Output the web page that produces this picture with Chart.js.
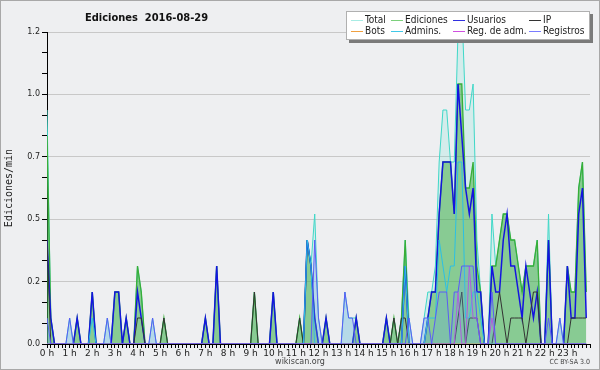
<!DOCTYPE html>
<html lang="es">
<head>
<meta charset="UTF-8">
<title>Ediciones 2016-08-29</title>
<script src="https://cdn.jsdelivr.net/npm/chart.js"></script>
<style>
  html, body { margin: 0; padding: 0; background: #eeeff1; }
</style>
</head>
<body>
<canvas id="editsChart" width="600" height="370"></canvas>

<script>
// one value every 10 minutes (144 per day), in edits per minute
const bins = Array.from({length: 144}, (_, i) => i);
const hourLabels = ['0 h','1 h','2 h','3 h','4 h','5 h','6 h','7 h','8 h','9 h','10 h','11 h',
                    '12 h','13 h','14 h','15 h','16 h','17 h','18 h','19 h','20 h','21 h','22 h','23 h'];
const yLabels = ['0.0','0.2','0.5','0.7','1.0','1.2'];
const seriesNames = ['Total','Ediciones','Usuarios','IP','Bots','Admins.','Reg. de adm.','Registros'];

const total = [
  0.9,0.1,0,0,0,0,0.1,0,0.1,0,0,0,0.2,0,0,0,0.1,0,0.2,0.2,0,0.1,0,0,
  0.3,0.2,0,0,0.1,0,0,0.1,0,0,0,0,0,0,0,0,0,0,0.1,0,0,0.3,0,0,
  0,0,0,0,0,0,0,0.2,0,0,0,0,0.2,0,0,0,0,0,0,0.1,0,0.4,0.3,0.5,
  0.1,0,0.1,0,0,0,0,0.2,0.1,0.1,0.1,0,0,0,0,0,0,0,0.1,0,0.1,0,0.1,0.4,
  0.1,0,0,0,0.1,0.2,0.2,0.3,0.7,0.9,0.9,0.7,0.7,1.2,1.3,0.9,0.9,1.0,0.4,0.2,0,0,0.5,0.3,
  0.4,0.5,0.5,0.4,0.4,0.3,0.2,0.3,0.3,0.3,0.4,0,0,0.5,0,0,0.1,0,0.3,0.2,0.2,0.6,0.7,0.2
];
const ediciones = [
  0.8,0.1,0,0,0,0,0,0,0.1,0,0,0,0.2,0,0,0,0,0,0.2,0.2,0,0.1,0,0,
  0.3,0.2,0,0,0,0,0,0.1,0,0,0,0,0,0,0,0,0,0,0.1,0,0,0.3,0,0,
  0,0,0,0,0,0,0,0.2,0,0,0,0,0.2,0,0,0,0,0,0,0.1,0,0.4,0.3,0.1,
  0,0,0.1,0,0,0,0,0,0,0,0.1,0,0,0,0,0,0,0,0.1,0,0.1,0,0.1,0.4,
  0,0,0,0,0,0.1,0.2,0.2,0.5,0.7,0.7,0.7,0.5,1.0,1.0,0.6,0.6,0.7,0.3,0.2,0,0,0.3,0.3,
  0.4,0.5,0.5,0.4,0.4,0.3,0.2,0.3,0.3,0.3,0.4,0,0,0.4,0,0,0,0,0.3,0.2,0.2,0.6,0.7,0.2
];
const usuarios = [
  0.4,0.1,0,0,0,0,0,0,0.1,0,0,0,0.2,0,0,0,0,0,0.2,0.2,0,0.1,0,0,
  0.2,0.1,0,0,0,0,0,0,0,0,0,0,0,0,0,0,0,0,0.1,0,0,0.3,0,0,
  0,0,0,0,0,0,0,0,0,0,0,0,0.2,0,0,0,0,0,0,0,0,0.4,0.3,0.1,
  0,0,0.1,0,0,0,0,0,0,0,0.1,0,0,0,0,0,0,0,0.1,0,0,0,0,0.3,
  0,0,0,0,0,0.1,0.2,0.2,0.5,0.7,0.7,0.7,0.5,1.0,0.8,0.6,0.5,0.6,0.2,0.2,0,0,0.3,0.2,
  0.2,0.4,0.5,0.3,0.3,0.2,0.1,0.3,0.2,0.1,0.2,0,0,0.4,0,0,0,0,0.3,0.1,0.1,0.5,0.6,0.1
];
const ip = [
  0.4,0,0,0,0,0,0,0,0,0,0,0,0,0,0,0,0,0,0,0,0,0,0,0,
  0.1,0.1,0,0,0,0,0,0.1,0,0,0,0,0,0,0,0,0,0,0,0,0,0,0,0,
  0,0,0,0,0,0,0,0.2,0,0,0,0,0,0,0,0,0,0,0,0.1,0,0,0,0,
  0,0,0,0,0,0,0,0,0,0,0,0,0,0,0,0,0,0,0,0,0.1,0,0.1,0.1,
  0,0,0,0,0,0,0,0,0,0,0,0,0,0.1,0.2,0,0.1,0.1,0.1,0,0,0,0,0.1,
  0.2,0.1,0,0.1,0.1,0.1,0.1,0,0.1,0.2,0.2,0,0,0,0,0,0,0,0,0.1,0.1,0.1,0.1,0.1
];
const bots = [
  0,0,0,0,0,0,0,0,0,0,0,0,0,0,0,0,0,0,0,0,0,0,0,0,
  0,0,0,0,0,0,0,0,0,0,0,0,0,0,0,0,0,0,0,0,0,0,0,0,
  0,0,0,0,0,0,0,0,0,0,0,0,0,0,0,0,0,0,0,0,0,0,0,0,
  0,0,0,0,0,0,0,0,0,0,0,0,0,0,0,0,0,0,0,0,0,0,0,0,
  0,0,0,0,0,0,0,0,0,0,0,0,0,0,0,0,0,0,0,0,0,0,0,0,
  0,0,0,0,0,0,0,0,0,0,0,0,0,0,0,0,0,0,0,0,0,0,0,0
];
const admins = [
  0,0,0,0,0,0,0,0,0,0,0,0,0.1,0,0,0,0,0,0,0,0,0,0,0,
  0,0,0,0,0,0,0,0,0,0,0,0,0,0,0,0,0,0,0,0,0,0,0,0,
  0,0,0,0,0,0,0,0,0,0,0,0,0,0,0,0,0,0,0,0,0,0.4,0.3,0,
  0,0,0,0,0,0,0,0,0,0,0,0,0,0,0,0,0,0,0,0,0,0,0,0.3,
  0,0,0,0,0,0.1,0.1,0.1,0.4,0.3,0.2,0.3,0.3,0.7,0.7,0.1,0.1,0.2,0.2,0.1,0,0,0,0,
  0,0,0,0,0,0,0,0,0,0,0,0,0,0,0,0,0,0,0,0,0,0,0,0
];
const regAdm = [
  0,0,0,0,0,0,0,0,0,0,0,0,0,0,0,0,0,0,0,0,0,0,0,0,
  0,0,0,0,0,0,0,0,0,0,0,0,0,0,0,0,0,0,0,0,0,0,0,0,
  0,0,0,0,0,0,0,0,0,0,0,0,0,0,0,0,0,0,0,0,0,0,0,0,
  0,0,0,0,0,0,0,0,0,0,0,0,0,0,0,0,0,0,0,0,0,0,0,0,
  0,0,0,0,0,0,0,0,0,0,0,0,0,0.2,0,0,0.3,0.1,0.1,0,0,0,0.1,0,
  0,0,0,0,0,0,0,0,0,0,0,0,0,0,0,0,0,0,0,0,0,0,0,0
];
const registros = [
  0.1,0,0,0,0,0,0.1,0,0,0,0,0,0,0,0,0,0.1,0,0,0,0,0,0,0,
  0,0,0,0,0.1,0,0,0,0,0,0,0,0,0,0,0,0,0,0,0,0,0,0,0,
  0,0,0,0,0,0,0,0,0,0,0,0,0,0,0,0,0,0,0,0,0,0,0,0.4,
  0.1,0,0,0,0,0,0,0.2,0.1,0.1,0,0,0,0,0,0,0,0,0,0,0,0,0,0,
  0.1,0,0,0,0.1,0.1,0,0.1,0.2,0.2,0.2,0,0.2,0.2,0.3,0.3,0.3,0.3,0.1,0,0,0,0.2,0,
  0,0,0,0,0,0,0,0,0,0,0,0,0,0.1,0,0,0.1,0,0,0,0,0,0,0
];

const lineColors = ['#3fd8c8','#38ae38','#1414e0','#333333','#f0a040','#2cc0e4','#cc40dc','#5a5cf6'];
const legendColors = ['#a8ece4','#7cd07c','#3030e0','#333333','#f0a040','#40c8e8','#d050e0','#7a7cff'];

function series(i, values, opts) {
  return Object.assign({
    label: seriesNames[i],
    data: values,
    borderColor: lineColors[i],
    borderWidth: 1,
    pointRadius: 0,
    tension: 0,
    fill: false,
    order: 8 - i
  }, opts || {});
}

const decor = {
  id: 'decor',
  beforeDraw(chart) {
    const c = chart.ctx;
    c.save();
    c.fillStyle = '#eeeff1';
    c.fillRect(0, 0, chart.width, chart.height);
    c.restore();
  },
  afterDraw(chart) {
    const c = chart.ctx;
    c.save();
    // title
    c.fillStyle = '#111';
    c.font = 'bold 11px "DejaVu Sans Condensed"';
    c.textBaseline = 'middle';
    c.fillText('Ediciones  2016-08-29', 85, 18);

    // legend with drop shadow
    c.fillStyle = '#7a7a7a';
    c.fillRect(349, 14, 244, 29);
    c.fillStyle = '#ffffff';
    c.fillRect(346, 11, 244, 29);
    c.strokeStyle = '#b0b0b0';
    c.lineWidth = 1;
    c.strokeRect(346.5, 11.5, 243, 28);
    const colX = [351, 391, 453, 529];
    const rowY = [20, 31];
    c.font = '10px "DejaVu Sans Condensed"';
    seriesNames.forEach((name, i) => {
      const x = colX[i % 4], y = rowY[Math.floor(i / 4)];
      c.strokeStyle = legendColors[i];
      c.beginPath();
      c.moveTo(x, y + 0.5);
      c.lineTo(x + 12, y + 0.5);
      c.stroke();
      c.fillStyle = '#222';
      c.fillText(name, x + 14, y);
    });

    // footer
    c.fillStyle = '#444';
    c.textAlign = 'center';
    c.font = '8px "DejaVu Sans"';
    c.fillText('wikiscan.org', 300, 362);
    c.textAlign = 'right';
    c.font = '7px "DejaVu Sans Condensed"';
    c.fillText('CC BY-SA 3.0', 590, 362);

    // outer frame
    c.strokeStyle = '#a8a8a8';
    c.strokeRect(0.5, 0.5, chart.width - 1, chart.height - 1);
    c.restore();
  }
};

new Chart(document.getElementById('editsChart'), {
  type: 'line',
  data: {
    labels: bins,
    datasets: [
      series(0, total, { fill: 'origin', backgroundColor: 'rgba(64,222,204,0.15)' }),
      series(1, ediciones, { fill: 'origin', backgroundColor: 'rgba(60,170,60,0.5)', borderWidth: 1.3 }),
      series(2, usuarios, { borderWidth: 1.5 }),
      series(3, ip),
      series(4, bots),
      series(5, admins),
      series(6, regAdm),
      series(7, registros, { fill: 'origin', backgroundColor: 'rgba(100,170,225,0.28)' })
    ]
  },
  options: {
    responsive: false,
    animation: false,
    devicePixelRatio: 1,
    layout: { padding: { top: 32, right: 10, bottom: 0, left: 0 } },
    plugins: { legend: { display: false }, title: { display: false }, tooltip: { enabled: false } },
    scales: {
      x: {
        type: 'linear',
        min: 0,
        max: 144,
        afterFit: s => { s.height = 26; },
        border: { color: '#000' },
        grid: { drawOnChartArea: false, color: '#000', tickLength: 4 },
        ticks: {
          stepSize: 1,
          autoSkip: false,
          minRotation: 0,
          maxRotation: 0,
          padding: 0,
          color: '#222',
          font: { family: 'DejaVu Sans', size: 9 },
          callback: v => (v % 6 === 0 && v < 144) ? hourLabels[v / 6] : ''
        }
      },
      y: {
        min: 0,
        max: 1.2,
        afterFit: s => { s.width = 47; },
        border: { color: '#000' },
        grid: {
          color: c => (c.index % 3 === 0 ? '#c8c8c8' : 'rgba(0,0,0,0)'),
          tickColor: '#000',
          tickLength: 5
        },
        ticks: {
          stepSize: 0.08,
          autoSkip: false,
          padding: 2,
          color: '#222',
          font: { family: 'DejaVu Sans', size: 8 },
          callback: (v, i) => (i % 3 === 0 ? yLabels[i / 3] : '')
        },
        title: {
          display: true,
          text: 'Ediciones/min',
          color: '#222',
          font: { family: 'DejaVu Sans Mono', size: 10 },
          padding: { top: 3, bottom: 0 }
        }
      }
    }
  },
  plugins: [decor]
});
</script>
</body>
</html>
